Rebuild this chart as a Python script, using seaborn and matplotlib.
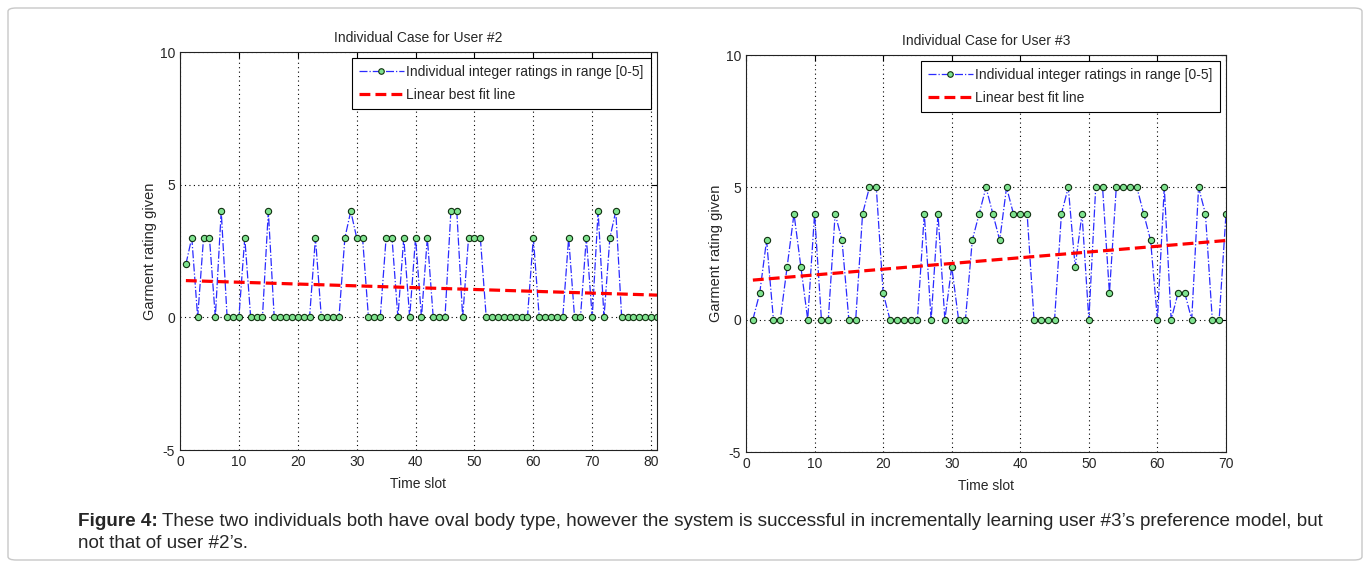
import numpy as np
import pandas as pd
import matplotlib
matplotlib.use("Agg")
import matplotlib.pyplot as plt
from matplotlib.patches import FancyBboxPatch
from matplotlib.lines import Line2D
import seaborn as sns

sns.set_style("white")
plt.rcParams['font.family'] = ['Liberation Sans', 'DejaVu Sans']
plt.rcParams['axes.unicode_minus'] = False

# ratings of user #2 (time slots 1..81)
user2_ratings = [2, 3, 0, 3, 3, 0, 4, 0, 0, 0,
                 3, 0, 0, 0, 4, 0, 0, 0, 0, 0,
                 0, 0, 3, 0, 0, 0, 0, 3, 4, 3,
                 3, 0, 0, 0, 3, 3, 0, 3, 0, 3,
                 0, 3, 0, 0, 0, 4, 4, 0, 3, 3,
                 3, 0, 0, 0, 0, 0, 0, 0, 0, 3,
                 0, 0, 0, 0, 0, 3, 0, 0, 3, 0,
                 4, 0, 3, 4, 0, 0, 0, 0, 0, 0,
                 0]
# ratings of user #3 (time slots 1..70)
user3_ratings = [0, 1, 3, 0, 0, 2, 4, 2, 0, 4,
                 0, 0, 4, 3, 0, 0, 4, 5, 5, 1,
                 0, 0, 0, 0, 0, 4, 0, 4, 0, 2,
                 0, 0, 3, 4, 5, 4, 3, 5, 4, 4,
                 4, 0, 0, 0, 0, 4, 5, 2, 4, 0,
                 5, 5, 1, 5, 5, 5, 5, 4, 3, 0,
                 5, 0, 1, 1, 0, 5, 4, 0, 0, 4]

titles = ["Individual Case for User #2", "Individual Case for User #3"]
xticks_list = [[0, 10, 20, 30, 40, 50, 60, 70, 80], [0, 10, 20, 30, 40, 50, 60, 70]]
xlims = [81, 70]
yticks = [-5, 0, 5, 10]
label_data = "Individual integer ratings in range [0-5]"
label_fit = "Linear best fit line"

blue = '#2b2bff'
green = '#7fe38f'
red_dash = (0, (3.4, 1.6))

fig = plt.figure(figsize=(13.7, 5.68), dpi=100)
fig.patches.append(FancyBboxPatch((8 / 1370, 8 / 568), 1354 / 1370, 552 / 568,
                                  boxstyle="round,pad=0,rounding_size=0.006",
                                  transform=fig.transFigure, fc='none', ec='#c8c8c8', lw=1,
                                  zorder=-1))

axes = [fig.add_axes([180 / 1370, 1 - 450 / 568, 477 / 1370, 398 / 568]),
        fig.add_axes([746 / 1370, 1 - 452 / 568, 480 / 1370, 397 / 568])]

for ax, ratings, title, xt, xl in zip(axes, [user2_ratings, user3_ratings], titles, xticks_list, xlims):
    df = pd.DataFrame({'slot': np.arange(1, len(ratings) + 1), 'rating': ratings})
    sns.lineplot(data=df, x='slot', y='rating', ax=ax, color=blue, lw=0.9,
                 linestyle='-.', marker='o', markersize=4.5, markerfacecolor=green,
                 markeredgecolor='#103010', markeredgewidth=0.8)
    # linear best fit
    sns.regplot(data=df, x='slot', y='rating', ax=ax, scatter=False, ci=None,
                line_kws=dict(color='red', lw=2.3, linestyle=red_dash))
    ax.set_xlim(0, xl)
    ax.set_ylim(-5, 10)
    ax.set_xticks(xt)
    ax.set_yticks(yticks)
    ax.grid(True, color='black', linestyle=(0, (1, 3)), lw=0.8)
    ax.tick_params(direction='in', length=4, top=True, right=True, labelsize=10, pad=3.5, color='black')
    for s in ax.spines.values():
        s.set_color('#222222')
        s.set_linewidth(0.8)
    ax.set_title(title, fontsize=10, pad=7)
    ax.set_xlabel("Time slot", fontsize=10, labelpad=6)
    ax.set_ylabel("Garment rating given", fontsize=10.5, labelpad=2)
    handles = [Line2D([], [], color=blue, lw=0.9, linestyle='-.', marker='o', markersize=4,
                      markerfacecolor=green, markeredgecolor='#103010', markeredgewidth=0.8),
               Line2D([], [], color='red', lw=2.3, linestyle=red_dash)]
    leg = ax.legend(handles, [label_data, label_fit], loc='upper right', fontsize=10,
                    fancybox=False, edgecolor='black', framealpha=1, borderaxespad=0.45,
                    handlelength=3.3, handletextpad=0.15, labelspacing=0.65, borderpad=0.5)
    leg.get_frame().set_linewidth(0.8)

t1 = fig.text(78 / 1370, 1 - 521 / 568, "Figure 4:", fontsize=13.6, fontweight='bold', va='center')
fig.canvas.draw()
bb = t1.get_window_extent(renderer=fig.canvas.get_renderer())
fig.text(bb.x1 / 1370 + 4 / 1370, 1 - 521 / 568,
         "These two individuals both have oval body type, however the system is successful in incrementally learning user #3\u2019s preference model, but",
         fontsize=13.6, va='center')
fig.text(78 / 1370, 1 - 543 / 568, "not that of user #2\u2019s.", fontsize=13.6, va='center')

fig.savefig("out.png", dpi=100)
